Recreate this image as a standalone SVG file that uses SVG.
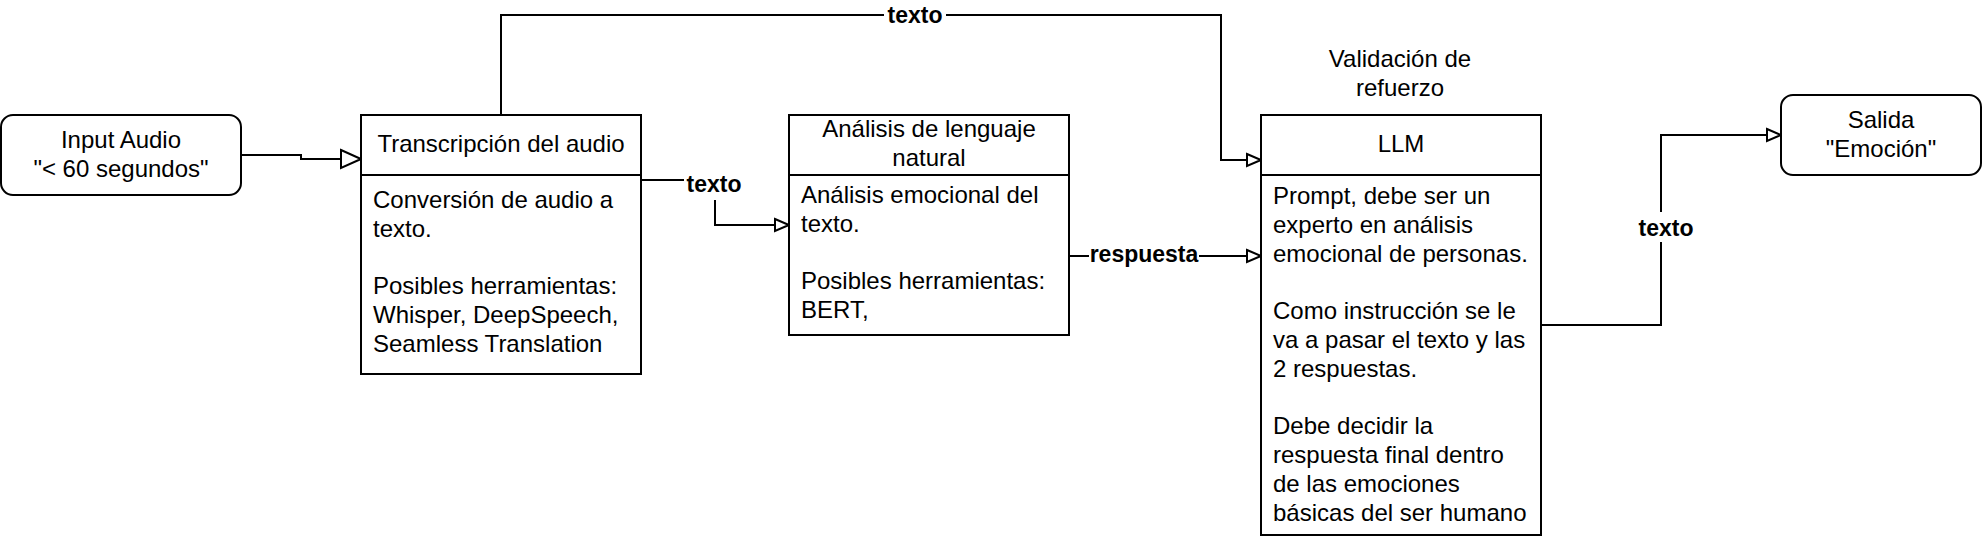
<svg xmlns="http://www.w3.org/2000/svg" width="1982" height="536" viewBox="0 0 1982 536">
  <style>
    .box { fill: #ffffff; stroke: #000000; stroke-width: 2; }
    .div { stroke: #000000; stroke-width: 2; fill: none; }
    .t { font-family: "Liberation Sans", Arial, Helvetica, sans-serif; font-size: 24px; fill: #000000; }
    .c { text-anchor: middle; }
    .edge { fill: none; stroke: #000000; stroke-width: 2; }
    .lbl { font-family: "Liberation Sans", Arial, Helvetica, sans-serif; font-size: 23px; font-weight: bold; text-anchor: middle; fill: #000000; }
    .lblbg { fill: #ffffff; }
  </style>
  <defs>
    <marker id="arrowBig" markerUnits="userSpaceOnUse" markerWidth="24" markerHeight="22" refX="22" refY="11" orient="auto">
      <path d="M2,2 L22,11 L2,20 Z" fill="#ffffff" stroke="#000000" stroke-width="2"/>
    </marker>
    <marker id="arrow" markerUnits="userSpaceOnUse" markerWidth="18" markerHeight="16" refX="16" refY="8" orient="auto">
      <path d="M2,2 L16,8 L2,14 Z" fill="#ffffff" stroke="#000000" stroke-width="2"/>
    </marker>
  </defs>
  <rect width="1982" height="536" fill="#ffffff"/>

  <g id="connectors">
    <path class="edge" d="M241,155 H301 V159 H361" marker-end="url(#arrowBig)"/>
    <path class="edge" d="M501,115 V15 H1221 V160 H1261" marker-end="url(#arrow)"/>
    <path class="edge" d="M641,180 H715 V225 H789" marker-end="url(#arrow)"/>
    <path class="edge" d="M1069,256 H1261" marker-end="url(#arrow)"/>
    <path class="edge" d="M1541,325 H1661 V135 H1781" marker-end="url(#arrow)"/>
    <rect class="lblbg" x="884" y="4" width="62" height="23"/>
    <text class="lbl" x="915" y="23">texto</text>
    <rect class="lblbg" x="684" y="172" width="60" height="28"/>
    <text class="lbl" x="714" y="192">texto</text>
    <rect class="lblbg" x="1089" y="245" width="110" height="23"/>
    <text class="lbl" x="1144" y="262">respuesta</text>
    <rect class="lblbg" x="1636" y="212" width="60" height="30"/>
    <text class="lbl" x="1666" y="236">texto</text>
  </g>

  <g id="input-audio">
    <rect class="box" x="1" y="115" width="240" height="80" rx="12" ry="12"/>
    <text class="t c" x="121" y="148">Input Audio</text>
    <text class="t c" x="121" y="177">"&lt; 60 segundos"</text>
  </g>

  <g id="transcripcion">
    <rect class="box" x="361" y="115" width="280" height="259"/>
    <line class="div" x1="361" y1="175" x2="641" y2="175"/>
    <text class="t c" x="501" y="152">Transcripción del audio</text>
    <text class="t" x="373" y="208">Conversión de audio a</text>
    <text class="t" x="373" y="236.8">texto.</text>
    <text class="t" x="373" y="294.4">Posibles herramientas:</text>
    <text class="t" x="373" y="323.2">Whisper, DeepSpeech,</text>
    <text class="t" x="373" y="352">Seamless Translation</text>
  </g>

  <g id="analisis">
    <rect class="box" x="789" y="115" width="280" height="220"/>
    <line class="div" x1="789" y1="175" x2="1069" y2="175"/>
    <text class="t c" x="929" y="137">Análisis de lenguaje</text>
    <text class="t c" x="929" y="165.8">natural</text>
    <text class="t" x="801" y="203">Análisis emocional del</text>
    <text class="t" x="801" y="231.8">texto.</text>
    <text class="t" x="801" y="289.4">Posibles herramientas:</text>
    <text class="t" x="801" y="318.2">BERT,</text>
  </g>

  <g id="validacion-label">
    <text class="t c" x="1400" y="67">Validación de</text>
    <text class="t c" x="1400" y="96">refuerzo</text>
  </g>

  <g id="llm">
    <rect class="box" x="1261" y="115" width="280" height="420"/>
    <line class="div" x1="1261" y1="175" x2="1541" y2="175"/>
    <text class="t c" x="1401" y="152">LLM</text>
    <text class="t" x="1273" y="204">Prompt, debe ser un</text>
    <text class="t" x="1273" y="232.8">experto en análisis</text>
    <text class="t" x="1273" y="261.6">emocional de personas.</text>
    <text class="t" x="1273" y="319.2">Como instrucción se le</text>
    <text class="t" x="1273" y="348">va a pasar el texto y las</text>
    <text class="t" x="1273" y="376.8">2 respuestas.</text>
    <text class="t" x="1273" y="434.4">Debe decidir la</text>
    <text class="t" x="1273" y="463.2">respuesta final dentro</text>
    <text class="t" x="1273" y="492">de las emociones</text>
    <text class="t" x="1273" y="520.8">básicas del ser humano</text>
  </g>

  <g id="salida">
    <rect class="box" x="1781" y="95" width="200" height="80" rx="12" ry="12"/>
    <text class="t c" x="1881" y="128">Salida</text>
    <text class="t c" x="1881" y="157">"Emoción"</text>
  </g>
</svg>
